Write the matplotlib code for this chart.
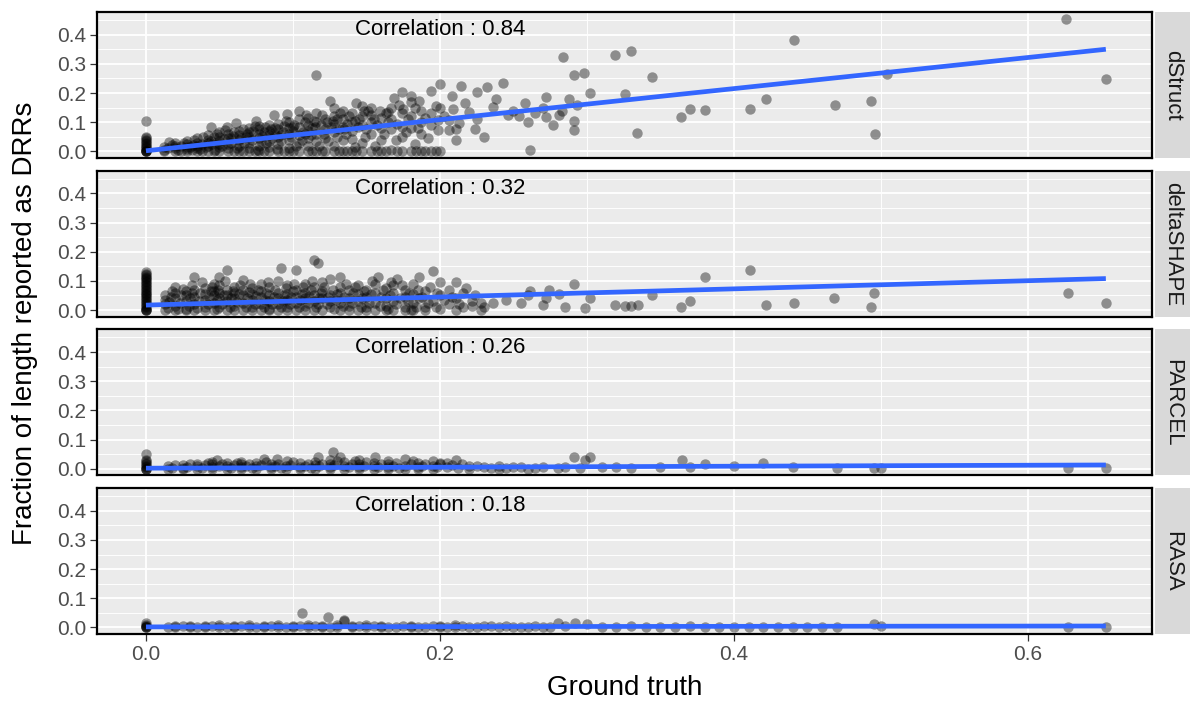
import numpy as np
import matplotlib
matplotlib.use("Agg")
import matplotlib.pyplot as plt

plt.rcParams['font.family'] = ['Liberation Sans', 'DejaVu Sans']

methods = ["dStruct", "deltaSHAPE", "PARCEL", "RASA"]
correlations = ["0.84", "0.32", "0.26", "0.18"]

# (ground truth, fraction reported)
dstruct_pts = [
    (0, 0), (0, 0), (0, 0), (0, 0), (0, 0.005), (0, 0.01), (0, 0.015), (0, 0.02), (0, 0.025),
    (0, 0.03), (0, 0.035), (0, 0.04), (0, 0.045), (0, 0.05), (0, 0.103),
    (0.012, 0.0), (0.012, 0.005), (0.012, 0.015), (0.016, 0.032),
    (0.02, 0.0), (0.02, 0.01), (0.02, 0.02), (0.02, 0.03),
    (0.028, 0.0), (0.028, 0.008), (0.028, 0.025), (0.028, 0.035), (0.028, 0.015),
    (0.035, 0.0), (0.035, 0.012), (0.035, 0.03), (0.035, 0.045), (0.035, 0.02),
    (0.042, 0.0), (0.042, 0.02), (0.042, 0.04), (0.042, 0.055), (0.042, 0.03), (0.044, 0.083),
    (0.05, 0.0), (0.05, 0.015), (0.05, 0.035), (0.05, 0.05), (0.05, 0.065), (0.05, 0.025),
    (0.056, 0.0), (0.056, 0.025), (0.056, 0.045), (0.056, 0.06), (0.055, 0.083), (0.056, 0.01),
    (0.063, 0.0), (0.063, 0.02), (0.063, 0.04), (0.063, 0.055), (0.063, 0.07), (0.061, 0.098),
    (0.07, 0.0), (0.07, 0.03), (0.07, 0.05), (0.07, 0.065), (0.07, 0.08), (0.07, 0.012),
    (0.077, 0.0), (0.077, 0.02), (0.077, 0.045), (0.077, 0.06), (0.077, 0.075), (0.075, 0.104), (0.077, 0.088),
    (0.084, 0.0), (0.084, 0.035), (0.084, 0.055), (0.084, 0.07), (0.084, 0.09), (0.084, 0.015),
    (0.09, 0.0), (0.09, 0.025), (0.09, 0.05), (0.09, 0.075), (0.09, 0.095), (0.087, 0.123),
    (0.097, 0.0), (0.097, 0.04), (0.097, 0.06), (0.097, 0.08), (0.097, 0.1), (0.096, 0.129), (0.097, 0.012),
    (0.104, 0.0), (0.104, 0.03), (0.104, 0.055), (0.104, 0.085), (0.104, 0.11), (0.104, 0.14),
    (0.11, 0.0), (0.11, 0.045), (0.11, 0.07), (0.11, 0.09), (0.11, 0.115), (0.11, 0.02),
    (0.116, 0.0), (0.116, 0.035), (0.116, 0.06), (0.116, 0.1), (0.116, 0.13), (0.116, 0.262),
    (0.122, 0.0), (0.122, 0.047), (0.122, 0.075), (0.122, 0.11), (0.125, 0.171),
    (0.128, 0.0), (0.128, 0.02), (0.128, 0.065), (0.128, 0.095), (0.128, 0.12), (0.128, 0.15),
    (0.134, 0.0), (0.134, 0.04), (0.134, 0.085), (0.134, 0.11), (0.134, 0.14),
    (0.14, 0.0), (0.14, 0.043), (0.14, 0.07), (0.14, 0.1), (0.14, 0.13), (0.143, 0.165),
    (0.147, 0.0), (0.147, 0.03), (0.147, 0.09), (0.147, 0.12), (0.147, 0.155),
    (0.153, 0.0), (0.153, 0.06), (0.153, 0.1), (0.153, 0.15), (0.153, 0.125),
    (0.16, 0.0), (0.16, 0.04), (0.16, 0.08), (0.159, 0.14), (0.16, 0.115),
    (0.167, 0.003), (0.167, 0.078), (0.167, 0.11), (0.167, 0.15), (0.169, 0.183),
    (0.174, 0.0), (0.174, 0.05), (0.174, 0.085), (0.174, 0.13), (0.174, 0.203),
    (0.18, 0.0), (0.183, 0.026), (0.18, 0.08), (0.18, 0.12), (0.18, 0.17), (0.18, 0.19),
    (0.187, 0.0), (0.187, 0.06), (0.187, 0.1), (0.186, 0.174), (0.187, 0.14),
    (0.194, 0.0), (0.194, 0.09), (0.194, 0.13), (0.194, 0.208),
    (0.2, 0.0), (0.199, 0.074), (0.199, 0.108), (0.2, 0.15), (0.2, 0.231),
    (0.206, 0.074), (0.206, 0.107), (0.209, 0.145), (0.211, 0.04),
    (0.211, 0.078), (0.214, 0.225), (0.22, 0.134), (0.225, 0.203), (0.225, 0.112), (0.224, 0.078),
    (0.232, 0.22), (0.236, 0.152), (0.243, 0.235), (0.246, 0.123), (0.254, 0.12), (0.26, 0.1),
    (0.261, 0.003), (0.272, 0.188), (0.272, 0.117), (0.281, 0.125), (0.284, 0.325), (0.291, 0.262),
    (0.293, 0.16), (0.291, 0.104), (0.291, 0.072), (0.298, 0.268), (0.302, 0.2), (0.319, 0.33),
    (0.326, 0.197), (0.33, 0.345), (0.334, 0.062), (0.344, 0.256), (0.364, 0.117), (0.37, 0.145),
    (0.38, 0.143), (0.411, 0.145), (0.422, 0.18), (0.441, 0.382), (0.469, 0.16), (0.493, 0.174),
    (0.496, 0.06), (0.504, 0.266), (0.626, 0.454), (0.653, 0.248),
    # denser part of the cloud
    (0.015, 0.012), (0.018, 0.022), (0.022, 0.006), (0.024, 0.018), (0.026, 0.028), (0.031, 0.004),
    (0.032, 0.022), (0.033, 0.038), (0.037, 0.008), (0.038, 0.026), (0.039, 0.05), (0.041, 0.014),
    (0.044, 0.036), (0.046, 0.048), (0.047, 0.006), (0.048, 0.06), (0.052, 0.02), (0.053, 0.042),
    (0.054, 0.072), (0.058, 0.03), (0.059, 0.052), (0.06, 0.066), (0.062, 0.012), (0.065, 0.046),
    (0.066, 0.076), (0.067, 0.028), (0.069, 0.058), (0.072, 0.04), (0.073, 0.07), (0.074, 0.088),
    (0.076, 0.006), (0.079, 0.052), (0.08, 0.066), (0.081, 0.082), (0.082, 0.028), (0.086, 0.045),
    (0.087, 0.062), (0.088, 0.08), (0.089, 0.008), (0.092, 0.035), (0.093, 0.068), (0.094, 0.088),
    (0.095, 0.105), (0.099, 0.05), (0.1, 0.07), (0.101, 0.092), (0.102, 0.02), (0.106, 0.04),
    (0.107, 0.065), (0.108, 0.1), (0.109, 0.125), (0.112, 0.055), (0.113, 0.08), (0.114, 0.105),
    (0.118, 0.02), (0.119, 0.09), (0.12, 0.125), (0.121, 0.06), (0.124, 0.035), (0.126, 0.085),
    (0.127, 0.105), (0.13, 0.05), (0.131, 0.075), (0.132, 0.13), (0.136, 0.06), (0.137, 0.095),
    (0.138, 0.12), (0.142, 0.015), (0.144, 0.085), (0.145, 0.11), (0.149, 0.05), (0.15, 0.075),
    (0.151, 0.138), (0.156, 0.02), (0.157, 0.09), (0.162, 0.06), (0.163, 0.13), (0.165, 0.1),
    (0.17, 0.04), (0.171, 0.095), (0.172, 0.16), (0.177, 0.065), (0.178, 0.11), (0.183, 0.15),
    (0.185, 0.08), (0.19, 0.115), (0.192, 0.045), (0.197, 0.155), (0.203, 0.12), (0.208, 0.19),
    (0.213, 0.098), (0.217, 0.165), (0.23, 0.05), (0.238, 0.18), (0.25, 0.14), (0.258, 0.165),
    (0.265, 0.13), (0.27, 0.15), (0.277, 0.09), (0.283, 0.14), (0.288, 0.18),
    (0.024, 0.0), (0.038, 0.0), (0.046, 0.0), (0.06, 0.0), (0.066, 0.0), (0.074, 0.0), (0.08, 0.0),
    (0.094, 0.0), (0.1, 0.0), (0.113, 0.0), (0.12, 0.0), (0.131, 0.0), (0.137, 0.0), (0.143, 0.0),
    (0.157, 0.0), (0.163, 0.0), (0.171, 0.0), (0.184, 0.0), (0.19, 0.0), (0.197, 0.0),
    (0.03, 0.015), (0.045, 0.025), (0.058, 0.045), (0.068, 0.05), (0.078, 0.035), (0.085, 0.078),
    (0.092, 0.055), (0.1, 0.085), (0.108, 0.06), (0.115, 0.085), (0.123, 0.1), (0.13, 0.11),
    (0.135, 0.075), (0.142, 0.105), (0.148, 0.14), (0.155, 0.11), (0.165, 0.135), (0.175, 0.145),
]

deltashape_pts = [
    (0, 0), (0, 0), (0, 0), (0, 0.005), (0, 0.01), (0, 0.015), (0, 0.02), (0, 0.025), (0, 0.03),
    (0, 0.035), (0, 0.04), (0, 0.045), (0, 0.05), (0, 0.055), (0, 0.06), (0, 0.065), (0, 0.07),
    (0, 0.075), (0, 0.08), (0, 0.085), (0, 0.09), (0, 0.095), (0, 0.1), (0, 0.105), (0, 0.11),
    (0, 0.115), (0, 0.12), (0, 0.125), (0, 0.13),
    (0.013, 0.0), (0.013, 0.02), (0.013, 0.051), (0.013, 0.035),
    (0.02, 0.0), (0.02, 0.015), (0.02, 0.04), (0.02, 0.08), (0.02, 0.06),
    (0.027, 0.005), (0.027, 0.03), (0.027, 0.05), (0.027, 0.065), (0.027, 0.0),
    (0.033, 0.0), (0.033, 0.02), (0.033, 0.045), (0.033, 0.07), (0.033, 0.114),
    (0.04, 0.01), (0.04, 0.035), (0.04, 0.055), (0.04, 0.075), (0.04, 0.0),
    (0.046, 0.0), (0.046, 0.025), (0.046, 0.05), (0.046, 0.065), (0.046, 0.09),
    (0.05, 0.01), (0.05, 0.04), (0.05, 0.06), (0.05, 0.114), (0.05, 0.085),
    (0.055, 0.0), (0.055, 0.03), (0.055, 0.05), (0.055, 0.07), (0.055, 0.137),
    (0.06, 0.015), (0.06, 0.04), (0.06, 0.06), (0.06, 0.08), (0.06, 0.0),
    (0.066, 0.0), (0.066, 0.025), (0.066, 0.05), (0.066, 0.07), (0.066, 0.103),
    (0.072, 0.01), (0.072, 0.035), (0.072, 0.055), (0.072, 0.075), (0.072, 0.0),
    (0.078, 0.0), (0.078, 0.02), (0.078, 0.045), (0.078, 0.065), (0.078, 0.09),
    (0.084, 0.005), (0.084, 0.03), (0.084, 0.05), (0.084, 0.08), (0.084, 0.0),
    (0.09, 0.0), (0.09, 0.02), (0.09, 0.04), (0.09, 0.06), (0.09, 0.1), (0.092, 0.145),
    (0.096, 0.01), (0.096, 0.035), (0.096, 0.055), (0.096, 0.085), (0.096, 0.0),
    (0.102, 0.0), (0.102, 0.025), (0.102, 0.045), (0.102, 0.07), (0.102, 0.137),
    (0.108, 0.015), (0.108, 0.04), (0.108, 0.06), (0.108, 0.09), (0.108, 0.0),
    (0.114, 0.0), (0.114, 0.03), (0.114, 0.05), (0.114, 0.08), (0.114, 0.173),
    (0.117, 0.16), (0.117, 0.02),
    (0.12, 0.0), (0.12, 0.04), (0.12, 0.065), (0.12, 0.095),
    (0.125, 0.01), (0.125, 0.03), (0.125, 0.05), (0.125, 0.108),
    (0.132, 0.0), (0.132, 0.025), (0.132, 0.06), (0.132, 0.114), (0.132, 0.08),
    (0.138, 0.015), (0.138, 0.04), (0.138, 0.07), (0.138, 0.0),
    (0.144, 0.0), (0.144, 0.03), (0.144, 0.055), (0.144, 0.085),
    (0.15, 0.01), (0.15, 0.045), (0.15, 0.07), (0.15, 0.0),
    (0.156, 0.0), (0.156, 0.025), (0.156, 0.06), (0.156, 0.09), (0.158, 0.114),
    (0.163, 0.015), (0.163, 0.04), (0.163, 0.075), (0.163, 0.0),
    (0.168, 0.0), (0.168, 0.03), (0.168, 0.06), (0.168, 0.085), (0.171, 0.108),
    (0.176, 0.01), (0.176, 0.045), (0.176, 0.07), (0.176, 0.0),
    (0.182, 0.0), (0.182, 0.025), (0.182, 0.055), (0.182, 0.09),
    (0.186, 0.114), (0.186, 0.04), (0.19, 0.01), (0.19, 0.065), (0.19, 0.0),
    (0.195, 0.133), (0.195, 0.03), (0.2, 0.097), (0.2, 0.05), (0.2, 0.005),
    (0.206, 0.07), (0.206, 0.02), (0.211, 0.095), (0.211, 0.04), (0.211, 0.0),
    (0.216, 0.06), (0.216, 0.01), (0.222, 0.015), (0.222, 0.03), (0.228, 0.0), (0.228, 0.025),
    (0.236, 0.023), (0.245, 0.034), (0.255, 0.023), (0.26, 0.05), (0.261, 0.066), (0.27, 0.017),
    (0.272, 0.042), (0.274, 0.07), (0.281, 0.054), (0.285, 0.011), (0.291, 0.088), (0.299, 0.006),
    (0.302, 0.04), (0.319, 0.019), (0.326, 0.014), (0.33, 0.014), (0.335, 0.019), (0.344, 0.051),
    (0.364, 0.009), (0.37, 0.032), (0.38, 0.114), (0.411, 0.137), (0.422, 0.019), (0.441, 0.025),
    (0.468, 0.041), (0.495, 0.06), (0.493, 0.01), (0.627, 0.058), (0.653, 0.024),
    # denser part of the cloud
    (0.015, 0.008), (0.016, 0.028), (0.017, 0.045), (0.018, 0.064), (0.022, 0.005), (0.023, 0.025),
    (0.024, 0.052), (0.025, 0.072), (0.029, 0.015), (0.03, 0.04), (0.031, 0.058), (0.031, 0.085),
    (0.035, 0.008), (0.036, 0.03), (0.037, 0.06), (0.038, 0.095), (0.042, 0.02), (0.043, 0.045),
    (0.044, 0.066), (0.045, 0.08), (0.048, 0.005), (0.048, 0.035), (0.049, 0.07), (0.052, 0.022),
    (0.053, 0.05), (0.054, 0.1), (0.057, 0.012), (0.058, 0.04), (0.059, 0.065), (0.062, 0.028),
    (0.063, 0.055), (0.064, 0.085), (0.068, 0.012), (0.069, 0.04), (0.07, 0.062), (0.071, 0.09),
    (0.074, 0.022), (0.075, 0.048), (0.076, 0.068), (0.08, 0.01), (0.081, 0.035), (0.082, 0.058),
    (0.083, 0.095), (0.086, 0.02), (0.087, 0.045), (0.088, 0.07), (0.092, 0.012), (0.093, 0.03),
    (0.094, 0.05), (0.095, 0.075), (0.098, 0.022), (0.099, 0.045), (0.1, 0.065), (0.101, 0.09),
    (0.104, 0.012), (0.105, 0.035), (0.106, 0.055), (0.107, 0.08), (0.11, 0.025), (0.111, 0.048),
    (0.112, 0.068), (0.113, 0.1), (0.116, 0.01), (0.118, 0.04), (0.119, 0.06), (0.121, 0.08),
    (0.123, 0.02), (0.124, 0.045), (0.127, 0.07), (0.128, 0.005), (0.129, 0.035), (0.13, 0.055),
    (0.134, 0.015), (0.135, 0.045), (0.136, 0.09), (0.14, 0.025), (0.141, 0.06), (0.142, 0.08),
    (0.146, 0.012), (0.147, 0.04), (0.148, 0.065), (0.152, 0.025), (0.153, 0.055), (0.154, 0.1),
    (0.159, 0.015), (0.16, 0.045), (0.161, 0.07), (0.165, 0.005), (0.166, 0.05), (0.167, 0.095),
    (0.17, 0.02), (0.173, 0.04), (0.174, 0.085), (0.178, 0.03), (0.179, 0.06), (0.18, 0.0),
    (0.184, 0.012), (0.185, 0.07), (0.188, 0.045), (0.192, 0.025), (0.193, 0.08), (0.197, 0.012),
    (0.198, 0.06), (0.203, 0.035), (0.208, 0.045), (0.213, 0.02), (0.218, 0.075), (0.224, 0.05),
    (0.23, 0.012),
]

parcel_pts = [
    (0, 0), (0, 0), (0, 0), (0, 0.005), (0, 0.01), (0, 0.015), (0, 0.02), (0, 0.025), (0, 0.03), (0, 0.05),
    (0.015, 0.0), (0.015, 0.008), (0.025, 0.003), (0.025, 0.012), (0.025, 0.0),
    (0.035, 0.0), (0.035, 0.01), (0.035, 0.018), (0.045, 0.005), (0.045, 0.015), (0.045, 0.0),
    (0.045, 0.022), (0.048, 0.03), (0.055, 0.0), (0.055, 0.01), (0.055, 0.02),
    (0.065, 0.005), (0.065, 0.015), (0.065, 0.0), (0.065, 0.024), (0.075, 0.0), (0.075, 0.01),
    (0.075, 0.02), (0.08, 0.032), (0.085, 0.005), (0.085, 0.015), (0.085, 0.0), (0.089, 0.035),
    (0.095, 0.0), (0.095, 0.01), (0.096, 0.027), (0.105, 0.005), (0.105, 0.02), (0.105, 0.0),
    (0.115, 0.0), (0.115, 0.012), (0.115, 0.022), (0.117, 0.041), (0.125, 0.005), (0.125, 0.018),
    (0.125, 0.0), (0.125, 0.03), (0.127, 0.059), (0.132, 0.039), (0.135, 0.0), (0.135, 0.01),
    (0.135, 0.022), (0.145, 0.005), (0.145, 0.015), (0.145, 0.03), (0.145, 0.0),
    (0.155, 0.0), (0.155, 0.01), (0.155, 0.02), (0.156, 0.042), (0.165, 0.005), (0.165, 0.015),
    (0.165, 0.0), (0.165, 0.025), (0.176, 0.033), (0.176, 0.0), (0.176, 0.01),
    (0.185, 0.005), (0.185, 0.02), (0.185, 0.0), (0.195, 0.025), (0.195, 0.0), (0.195, 0.01),
    (0.2, 0.015), (0.205, 0.02), (0.205, 0.005), (0.211, 0.03), (0.22, 0.0), (0.22, 0.01),
    (0.23, 0.005), (0.24, 0.0), (0.24, 0.008), (0.25, 0.005), (0.26, 0.0), (0.27, 0.005),
    (0.28, 0.003), (0.291, 0.042), (0.299, 0.03), (0.302, 0.039), (0.31, 0.005), (0.33, 0.003),
    (0.35, 0.005), (0.365, 0.03), (0.37, 0.005), (0.38, 0.018), (0.4, 0.01), (0.42, 0.02),
    (0.44, 0.005), (0.47, 0.003), (0.495, 0.004), (0.5, 0.002), (0.627, 0.004), (0.653, 0.002),
    (0.018, 0.004), (0.02, 0.012), (0.028, 0.006), (0.03, 0.016), (0.038, 0.004), (0.04, 0.013),
    (0.042, 0.02), (0.05, 0.008), (0.052, 0.016), (0.058, 0.004), (0.06, 0.013), (0.062, 0.02),
    (0.068, 0.008), (0.07, 0.017), (0.072, 0.003), (0.078, 0.012), (0.082, 0.022), (0.088, 0.008),
    (0.09, 0.018), (0.092, 0.003), (0.098, 0.014), (0.1, 0.022), (0.108, 0.01), (0.11, 0.016),
    (0.112, 0.004), (0.118, 0.008), (0.12, 0.018), (0.128, 0.012), (0.13, 0.025), (0.138, 0.006),
    (0.14, 0.017), (0.142, 0.028), (0.148, 0.01), (0.15, 0.022), (0.158, 0.006), (0.16, 0.016),
    (0.168, 0.01), (0.17, 0.02), (0.172, 0.003), (0.18, 0.015), (0.182, 0.025), (0.188, 0.01),
    (0.19, 0.018), (0.198, 0.006), (0.2, 0.02), (0.208, 0.012), (0.212, 0.004), (0.215, 0.016),
    (0.225, 0.008), (0.235, 0.004), (0.245, 0.003), (0.255, 0.006), (0.265, 0.002), (0.285, 0.005),
    (0.295, 0.004), (0.32, 0.006),
]

rasa_pts = [
    (0, 0), (0, 0), (0, 0), (0, 0.005), (0, 0.01), (0, 0.015),
    (0.02, 0.0), (0.02, 0.004), (0.03, 0.002), (0.03, 0.006), (0.04, 0.0), (0.04, 0.005),
    (0.05, 0.003), (0.05, 0.007), (0.06, 0.0), (0.06, 0.005), (0.07, 0.002), (0.07, 0.008),
    (0.08, 0.0), (0.08, 0.005), (0.09, 0.003), (0.09, 0.009), (0.1, 0.0), (0.1, 0.006),
    (0.106, 0.05), (0.11, 0.002), (0.11, 0.01), (0.12, 0.0), (0.12, 0.005), (0.124, 0.037),
    (0.13, 0.003), (0.13, 0.008), (0.135, 0.027), (0.135, 0.022), (0.14, 0.0), (0.14, 0.005),
    (0.15, 0.002), (0.15, 0.007), (0.16, 0.0), (0.16, 0.004), (0.17, 0.003), (0.18, 0.0),
    (0.18, 0.006), (0.19, 0.002), (0.2, 0.0), (0.2, 0.005), (0.21, 0.003), (0.21, 0.007),
    (0.22, 0.0), (0.23, 0.004), (0.24, 0.002), (0.25, 0.0), (0.26, 0.003), (0.27, 0.0),
    (0.28, 0.014), (0.292, 0.016), (0.3, 0.013), (0.32, 0.003), (0.34, 0.002), (0.37, 0.004),
    (0.38, 0.002), (0.42, 0.003), (0.44, 0.002), (0.47, 0.003), (0.495, 0.012), (0.5, 0.004),
    (0.627, 0.002), (0.653, 0.001),
    (0.015, 0.002), (0.025, 0.005), (0.035, 0.003), (0.045, 0.006), (0.055, 0.002), (0.065, 0.005),
    (0.075, 0.003), (0.085, 0.006), (0.095, 0.002), (0.105, 0.005), (0.115, 0.006), (0.125, 0.003),
    (0.145, 0.004), (0.155, 0.006), (0.165, 0.002), (0.175, 0.005), (0.185, 0.003), (0.195, 0.006),
    (0.205, 0.002), (0.215, 0.005), (0.225, 0.003), (0.235, 0.006), (0.245, 0.004), (0.255, 0.002),
    (0.265, 0.005), (0.275, 0.003), (0.285, 0.004), (0.31, 0.003), (0.33, 0.004), (0.35, 0.002),
    (0.36, 0.003), (0.39, 0.003), (0.4, 0.002), (0.41, 0.003), (0.43, 0.002), (0.45, 0.003),
    (0.46, 0.002),
]

panel_pts = [dstruct_pts, deltashape_pts, parcel_pts, rasa_pts]

# linear fit ends (x from 0 to max ground truth)
fit_x = [0.0, 0.653]
fit_start = [0.002, 0.017, 0.002, 0.002]
fit_end = [0.35, 0.108, 0.013, 0.005]

W, H = 1192, 702
fig = plt.figure(figsize=(W / 100, H / 100), dpi=100)

left, right = 97, 1152
top0, step, ph = 12, 158.7, 146

for i, name in enumerate(methods):
    top = top0 + i * step
    ax = fig.add_axes([left / W, 1 - (top + ph) / H, (right - left) / W, ph / H])
    ax.set_facecolor("#EBEBEB")
    ax.set_xlim(-0.0333, 0.6844)
    ax.set_ylim(-0.02275, 0.47775)
    ax.set_xticks([0, 0.2, 0.4, 0.6])
    ax.set_xticks([0.1, 0.3, 0.5], minor=True)
    ax.set_yticks([0.0, 0.1, 0.2, 0.3, 0.4])
    ax.set_yticks([0.05, 0.15, 0.25, 0.35, 0.45], minor=True)
    ax.grid(which="major", color="white", lw=1.3)
    ax.grid(which="minor", color="white", lw=0.65)
    ax.set_axisbelow(True)
    ax.set_yticklabels(["0.0", "0.1", "0.2", "0.3", "0.4"])
    for s in ax.spines.values():
        s.set_color("black")
        s.set_linewidth(1.6)
    ax.tick_params(which="major", length=5, width=0.9, color="#333333", pad=3,
                   labelcolor="#4D4D4D", labelsize=15)
    ax.tick_params(which="minor", length=0)
    if i < 3:
        ax.tick_params(axis="x", which="both", length=0, labelbottom=False)
    else:
        ax.set_xticklabels(["0.0", "0.2", "0.4", "0.6"])

    pts = np.array(panel_pts[i])
    ax.scatter(pts[:, 0], pts[:, 1], s=56, color="black", alpha=0.4, linewidths=0, zorder=2)
    ax.plot(fit_x, [fit_start[i], fit_end[i]], color="#3366FF", lw=3.4,
            solid_capstyle="butt", zorder=3)
    ax.text(0.2, 0.417, "Correlation : " + correlations[i], ha="center", va="center",
            fontsize=16, color="black")

    sax = fig.add_axes([1155 / W, 1 - (top + ph) / H, 35 / W, ph / H])
    sax.set_facecolor("#D9D9D9")
    sax.set_xticks([])
    sax.set_yticks([])
    for s in sax.spines.values():
        s.set_visible(False)
    sax.text(0.5, 0.5, name, rotation=270, ha="center", va="center",
             fontsize=16, color="#1A1A1A", transform=sax.transAxes)

fig.text((left + right) / 2 / W, 1 - 688 / H, "Ground truth", ha="center", va="center",
         fontsize=20, color="black")
fig.text(25 / W, 1 - 323 / H, "Fraction of length reported as DRRs", ha="center",
         va="center", rotation=90, fontsize=20, color="black")

fig.savefig("out.png", dpi=100, facecolor="white")
